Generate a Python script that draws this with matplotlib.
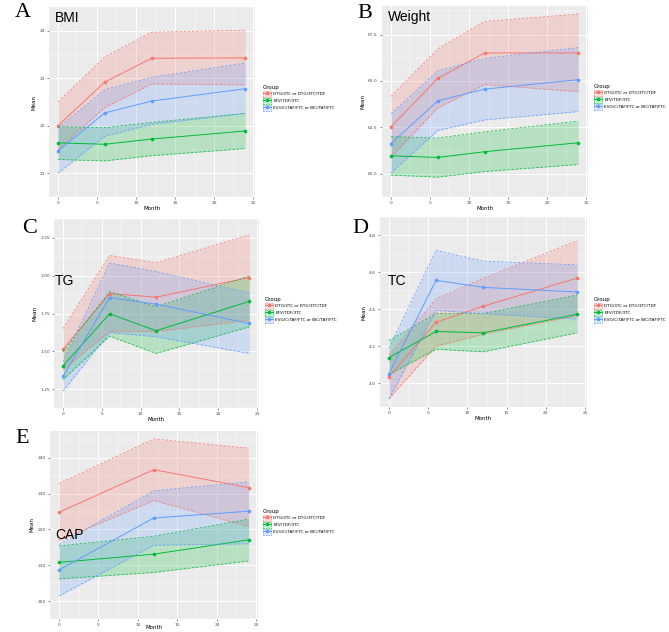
import numpy as np
import matplotlib
matplotlib.use("Agg")
import matplotlib.pyplot as plt
from matplotlib.patches import Patch
from matplotlib.lines import Line2D

W, H = 669, 632

groups = ["DTG/3TC or DTG/3TC/TDF", "EFV/TDF/3TC", "EVG/C/TAF/FTC or BIC/TAF/FTC"]
colors = ["#F8766D", "#00BA38", "#619CFF"]

months = [0, 6, 12, 24]
months_cap = [0, 12, 24]

# rows: DTG, EFV, EVG/BIC
bmi_mean = [[22.00, 22.92, 23.42, 23.43], [21.64, 21.61, 21.72, 21.89], [21.47, 22.27, 22.52, 22.78]]
bmi_low = [[21.50, 22.38, 22.88, 22.86], [21.29, 21.26, 21.37, 21.52], [21.00, 21.78, 22.03, 22.26]]
bmi_high = [[22.50, 23.45, 23.97, 24.01], [21.98, 21.96, 22.07, 22.26], [21.95, 22.76, 23.02, 23.32]]

weight_mean = [[62.53, 65.14, 66.51, 66.51], [60.97, 60.88, 61.19, 61.67], [61.63, 63.93, 64.56, 65.07]]
weight_low = [[60.89, 63.55, 64.81, 64.42], [59.93, 59.82, 60.12, 60.50], [60.05, 62.33, 62.90, 63.35]]
weight_high = [[64.17, 66.73, 68.21, 68.60], [62.00, 61.93, 62.26, 62.84], [63.23, 65.54, 66.22, 66.80]]

tg_mean = [[1.514, 1.882, 1.858, 1.988], [1.404, 1.748, 1.636, 1.830], [1.334, 1.854, 1.812, 1.684]]
tg_low = [[1.378, 1.630, 1.630, 1.706], [1.312, 1.600, 1.486, 1.662], [1.236, 1.624, 1.596, 1.486]]
tg_high = [[1.650, 2.134, 2.086, 2.270], [1.496, 1.894, 1.794, 1.998], [1.432, 2.084, 2.028, 1.886]]

tc_mean = [[4.035, 4.330, 4.417, 4.569], [4.139, 4.280, 4.273, 4.373], [4.052, 4.557, 4.519, 4.494]]
tc_low = [[3.916, 4.200, 4.265, 4.366], [4.047, 4.184, 4.170, 4.273], [3.914, 4.394, 4.377, 4.347]]
tc_high = [[4.154, 4.457, 4.567, 4.772], [4.231, 4.377, 4.377, 4.477], [4.190, 4.720, 4.661, 4.641]]

cap_mean = [[224.8, 236.7, 231.7], [210.8, 213.1, 217.1], [208.7, 223.2, 225.1]]
cap_low = [[216.9, 228.1, 220.8], [206.2, 208.0, 211.2], [201.4, 215.6, 216.0]]
cap_high = [[232.8, 245.3, 242.7], [215.4, 218.1, 222.9], [215.8, 230.8, 233.3]]

x_ticks = [0, 5, 10, 15, 20, 25]
bmi_ticks = [21, 22, 23, 24]
weight_ticks = [60.0, 62.5, 65.0, 67.5]
tg_ticks = [1.25, 1.50, 1.75, 2.00, 2.25]
tc_ticks = [4.0, 4.2, 4.4, 4.6, 4.8]
cap_ticks = [200, 210, 220, 230, 240]


def px_axes(fig, left, top, right, bottom):
    return fig.add_axes([left / W, 1 - bottom / H, (right - left) / W, (bottom - top) / H])


def fig_text(fig, x, y, s, **kw):
    fig.text(x / W, 1 - y / H, s, **kw)


def draw_panel(ax, x, mean, low, high, yticks, yfmt):
    ax.set_facecolor("#EBEBEB")
    for i in range(3):
        c = colors[i]
        ax.fill_between(x, low[i], high[i], color=c, alpha=0.22, lw=0)
        ax.plot(x, low[i], color=c, lw=0.6, ls=(0, (3, 2)), alpha=0.85)
        ax.plot(x, high[i], color=c, lw=0.6, ls=(0, (3, 2)), alpha=0.85)
        ax.plot(x, mean[i], color=c, lw=0.7, marker="o", ms=1.6)
    ax.set_xlim(-1.2, 25.2)
    ax.margins(y=0.05)
    ax.set_xticks(x_ticks)
    ax.set_xticks([2.5, 7.5, 12.5, 17.5, 22.5], minor=True)
    ax.set_yticks(yticks)
    ax.set_yticklabels([yfmt.format(v) for v in yticks])
    step = yticks[1] - yticks[0]
    ax.set_yticks([v + step / 2 for v in [yticks[0] - step] + yticks], minor=True)
    ax.grid(True, which="major", color="white", lw=0.7)
    ax.grid(True, which="minor", color="white", lw=0.35)
    ax.set_axisbelow(True)
    for s in ax.spines.values():
        s.set_visible(False)
    ax.tick_params(which="major", length=1.5, width=0.4, color="#333333",
                   labelsize=3.2, labelcolor="#4D4D4D", pad=1.2)
    ax.tick_params(which="minor", length=0)
    ax.set_xlabel("Month", fontsize=4.0, labelpad=0.8)
    ax.set_ylabel("Mean", fontsize=4.0, labelpad=2)


def draw_legend(ax, x, y):
    handles = []
    for c in colors:
        box = Patch(facecolor=matplotlib.colors.to_rgba(c, 0.22), edgecolor=c, ls=(0, (2, 1.5)), lw=0.5)
        ln = Line2D([], [], color=c, lw=0.7, marker="o", ms=1.6)
        handles.append((box, ln))
    leg = ax.legend(handles, groups, title="Group", loc="upper left",
                    bbox_to_anchor=(x / W, 1 - y / H), bbox_transform=ax.figure.transFigure,
                    frameon=False, fontsize=3.0, title_fontsize=4.0, alignment="left",
                    handlelength=2.0, handleheight=1.7, labelspacing=0.3,
                    handletextpad=0.5, borderaxespad=0, borderpad=0)
    return leg


fig = plt.figure(figsize=(W / 100, H / 100), dpi=100)

ax_a = px_axes(fig, 48.6, 7, 254.6, 197)
draw_panel(ax_a, months, bmi_mean, bmi_low, bmi_high, bmi_ticks, "{:.0f}")
draw_legend(ax_a, 263, 85)

ax_b = px_axes(fig, 381.6, 6, 587.6, 197)
draw_panel(ax_b, months, weight_mean, weight_low, weight_high, weight_ticks, "{:.1f}")
draw_legend(ax_b, 594, 84)

ax_c = px_axes(fig, 53.7, 219, 258.6, 408)
draw_panel(ax_c, months, tg_mean, tg_low, tg_high, tg_ticks, "{:.2f}")
draw_legend(ax_c, 265, 297)

ax_d = px_axes(fig, 379.6, 217, 586.6, 407)
draw_panel(ax_d, months, tc_mean, tc_low, tc_high, tc_ticks, "{:.1f}")
draw_legend(ax_d, 594, 297)

ax_e = px_axes(fig, 49.5, 431, 258, 619)
draw_panel(ax_e, months_cap, cap_mean, cap_low, cap_high, cap_ticks, "{:.0f}")
ax_e.xaxis.set_label_coords(0.5, -0.03)
draw_legend(ax_e, 263, 509)

title_kw = dict(fontsize=10, family="Liberation Sans", va="baseline", ha="left")
fig_text(fig, 55, 22, "BMI", **title_kw)
fig_text(fig, 388, 21, "Weight", **title_kw)
fig_text(fig, 55, 285, "TG", **title_kw)
fig_text(fig, 388, 285, "TC", **title_kw)
fig_text(fig, 55, 539, "CAP", **title_kw)

letter_kw = dict(fontsize=16, family="Liberation Serif", va="baseline", ha="left")
fig_text(fig, 15, 17, "A", **letter_kw)
fig_text(fig, 357, 18, "B", **letter_kw)
fig_text(fig, 22, 233, "C", **letter_kw)
fig_text(fig, 352, 233, "D", **letter_kw)
fig_text(fig, 15, 443, "E", **letter_kw)

fig.savefig("out.png", dpi=100)
